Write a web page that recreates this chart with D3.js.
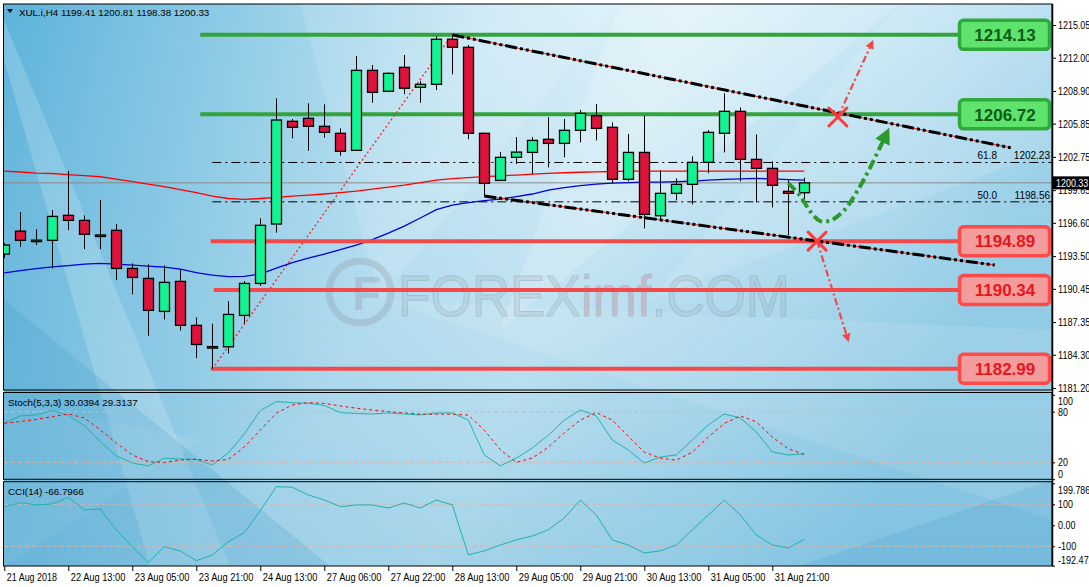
<!DOCTYPE html>
<html><head><meta charset="utf-8">
<script src="https://cdn.jsdelivr.net/npm/d3@7"></script>
<style>
html,body{margin:0;padding:0;background:#fff;}
svg{display:block;font-family:"Liberation Sans",Arial,sans-serif;}
</style></head><body>
<svg id="c" width="1089" height="587"></svg>
<script>
// ---------------- DATA ----------------
const symbol = "XUL.i,H4";
const lastOHLC = [1199.41, 1200.81, 1198.38, 1200.33];
const xLabels = ["21 Aug 2018","22 Aug 13:00","23 Aug 05:00","23 Aug 21:00","24 Aug 13:00","27 Aug 06:00","27 Aug 22:00","28 Aug 13:00","29 Aug 05:00","29 Aug 21:00","30 Aug 13:00","31 Aug 05:00","31 Aug 21:00"];
const xLabelBars = [0,4,8,12,16,20,24,28,32,36,40,44,48];
const priceTicks = [1215.05,1212.00,1208.90,1205.85,1202.75,1199.65,1196.60,1193.50,1190.45,1187.35,1184.30,1181.20];

const open  = [1193.69,1195.83,1194.97,1194.97,1197.30,1196.83,1195.46,1195.90,1192.35,1191.42,1188.34,1191.14,1187.04,1185.04,1185.04,1187.97,1190.95,1196.49,1206.07,1206.35,1205.60,1204.95,1203.36,1210.82,1208.87,1211.10,1209.24,1209.52,1213.72,1212.97,1204.95,1200.56,1202.71,1203.17,1204.39,1204.01,1205.23,1206.59,1205.51,1200.66,1203.17,1197.26,1199.35,1200.19,1202.24,1204.95,1207.00,1202.52,1201.68,1199.54,1199.41];
const high  = [1194.71,1197.61,1196.02,1197.79,1201.43,1197.30,1198.73,1196.49,1192.82,1192.73,1192.63,1192.26,1187.78,1187.19,1189.30,1191.17,1197.02,1208.21,1206.28,1207.75,1207.65,1205.41,1212.16,1211.32,1210.64,1212.25,1209.83,1214.00,1214.13,1213.18,1205.00,1203.20,1204.60,1204.60,1206.44,1206.28,1207.12,1207.68,1205.97,1204.88,1206.59,1201.50,1200.75,1202.80,1205.26,1208.68,1207.37,1204.85,1202.34,1200.56,1200.81];
const low   = [1193.31,1194.37,1194.53,1192.35,1195.93,1194.15,1194.15,1191.26,1189.93,1186.07,1187.60,1186.57,1183.99,1182.99,1184.42,1187.22,1190.73,1195.68,1204.48,1203.32,1204.54,1202.86,1203.30,1207.80,1208.80,1208.59,1207.80,1208.99,1210.45,1204.39,1199.10,1200.50,1202.08,1201.18,1201.78,1202.71,1204.11,1204.29,1200.28,1200.47,1196.09,1196.83,1198.70,1198.32,1201.22,1203.17,1200.47,1198.51,1198.04,1195.46,1198.38];
const close = [1194.53,1194.97,1194.99,1197.20,1196.83,1195.53,1195.47,1192.35,1191.51,1188.44,1191.05,1187.04,1185.26,1185.06,1188.06,1190.95,1196.37,1206.19,1205.51,1205.60,1205.04,1203.27,1210.82,1208.77,1210.54,1209.15,1209.52,1213.72,1212.97,1204.95,1200.28,1202.71,1203.20,1204.29,1204.01,1205.23,1206.81,1205.41,1200.66,1203.17,1197.39,1199.35,1200.19,1202.24,1205.04,1207.00,1202.52,1201.68,1200.10,1199.35,1200.33];

const maRed  = [1201.43,1201.34,1201.24,1201.20,1201.10,1201.01,1200.90,1200.68,1200.45,1200.22,1199.98,1199.70,1199.42,1199.10,1198.87,1198.79,1198.87,1198.98,1199.10,1199.19,1199.29,1199.42,1199.56,1199.75,1199.94,1200.12,1200.36,1200.59,1200.73,1200.82,1200.92,1200.99,1201.06,1201.15,1201.22,1201.27,1201.32,1201.36,1201.39,1201.42,1201.43,1201.43,1201.43,1201.43,1201.43,1201.43,1201.43,1201.43,1201.43,1201.43,1201.43];
const maBlue = [1191.94,1192.15,1192.34,1192.50,1192.62,1192.76,1192.82,1192.76,1192.66,1192.57,1192.48,1192.29,1191.96,1191.73,1191.59,1191.61,1191.82,1192.38,1192.90,1193.31,1193.69,1194.11,1194.53,1195.04,1195.65,1196.30,1197.05,1197.84,1198.26,1198.49,1198.68,1198.82,1199.05,1199.29,1199.66,1199.89,1200.08,1200.22,1200.31,1200.36,1200.39,1200.40,1200.44,1200.50,1200.59,1200.66,1200.70,1200.75,1200.70,1200.64,1200.59];

const stochMain   = [66.7,75.0,76.2,81.3,75.6,63.7,44.5,27.5,19.2,15.7,24.8,24.0,23.6,16.8,31.1,53.6,81.3,91.9,90.7,90.0,87.4,78.9,77.9,77.3,78.5,77.3,76.2,78.5,78.5,70.0,28.7,15.7,25.0,37.0,52.0,70.0,82.0,75.0,46.5,34.6,19.2,26.3,28.7,46.5,64.3,77.3,72.6,56.0,32.3,28.7,30.04];
const stochSignal = [66.3,68.4,70.8,74.1,77.3,72.6,58.4,42.9,28.7,20.8,19.8,22.7,23.6,21.6,23.4,38.2,58.4,78.2,88.0,90.7,89.8,86.8,84.1,82.0,80.0,78.5,77.0,77.0,77.0,76.0,58.0,35.0,20.0,25.0,38.0,55.0,70.0,79.0,70.0,51.0,32.0,25.0,22.5,32.0,50.0,66.0,75.0,68.0,50.0,36.0,29.31];
const cci = [88.6,107.6,96.7,101.4,133.3,72.9,77.6,-22.4,-101.9,-178.1,-101.9,-122.4,-168.6,-141.4,-78.1,-35.2,69.5,183.8,181.0,144.3,120.5,88.6,96.7,96.7,82,106,82,120,97,-141,-122,-94,-70,-51,-22,35,120,49,-70,-94,-132,-122,-94,-22,49,120,49,-46,-94,-108,-66.80];
const stochText = "Stoch(5,3,3) 30.0394 29.3137";
const cciText = "CCI(14) -66.7966";
const stochTicks = [100,80,20,0];
const cciTicks = [199.786,100,0,-100,-192.472];

const resistLevels = [1214.13, 1206.72];
const supportLevels = [1194.89, 1190.34, 1182.99];
const fibLevels = [{pct:"61.8", price:1202.23},{pct:"50.0", price:1198.56}];
const fibLow = [13, 1182.99], fibHigh = [28, 1214.13];
const upperTrend = [[28,1214.13],[62.9,1203.60]];
const lowerTrend = [[30,1199.10],[61.9,1192.66]];
const crossPts = [[52.1,1206.47],[50.8,1194.90]];
const redArrows = [[[52.1,1206.47],[54.2,1213.28]],[[50.8,1194.90],[52.7,1185.85]]];
const greenPath = [[49.0,1200.31],[49.7,1199.19],[50.4,1197.61],[51.0,1196.77],[51.7,1196.86],[52.5,1197.79],[53.35,1199.66],[54.1,1201.71],[55.1,1204.79]];

// ---------------- LAYOUT ----------------
const L=4, R=1052;
const mainTop=4, mainBot=390, stTop=392.5, stBot=479.3, cTop=481.7, cBot=566;
const FONT='"Liberation Sans",Arial,sans-serif';
const svg = d3.select('#c');
const x  = d3.scaleLinear().domain([0,50]).range([4.3,804.3]);
const y  = d3.scaleLinear().domain([1181.20,1215.05]).range([388,25]);
const ys = d3.scaleLinear().domain([0,100]).range([479.2,394.8]);
const yc = d3.scaleLinear().domain([-192.472,199.786]).range([565.7,483.3]);
// narrow label width like a bitmap UI font
const labW = t => { let w=0; for(const ch of t){ w += (ch==='.'?2.6:(ch==='-'?3.4:4.95)); } return w; };

const defs = svg.append('defs');
const g1 = defs.append('linearGradient').attr('id','bg').attr('x1',0).attr('y1',0).attr('x2',1).attr('y2',0.25);
[[0,'#5cb3da'],[0.22,'#92cde7'],[0.45,'#cfeaf6'],[0.62,'#dff2f9'],[0.85,'#c2e4f3'],[1,'#a8d7ec']].forEach(s=>g1.append('stop').attr('offset',s[0]).attr('stop-color',s[1]));
const g2 = defs.append('linearGradient').attr('id','dark').attr('x1',0).attr('y1',0).attr('x2',0).attr('y2',1);
g2.append('stop').attr('offset',0).attr('stop-color','#3a9ccc').attr('stop-opacity',0);
g2.append('stop').attr('offset',1).attr('stop-color','#3a9ccc').attr('stop-opacity',0.35);
const blur = defs.append('filter').attr('id','sh').attr('x','-5%').attr('y','-50%').attr('width','110%').attr('height','200%');
blur.append('feGaussianBlur').attr('stdDeviation',1.6);
defs.append('clipPath').attr('id','cm').append('rect').attr('x',L).attr('y',mainTop).attr('width',R-L).attr('height',mainBot-mainTop);
defs.append('clipPath').attr('id','cs').append('rect').attr('x',L).attr('y',stTop).attr('width',R-L).attr('height',stBot-stTop);
defs.append('clipPath').attr('id','cc').append('rect').attr('x',L).attr('y',cTop).attr('width',R-L).attr('height',cBot-cTop);
function marker(id,color){
  defs.append('marker').attr('id',id).attr('viewBox','0 0 10 10').attr('refX',5).attr('refY',5)
   .attr('markerWidth',4).attr('markerHeight',4).attr('orient','auto-start-reverse')
   .append('path').attr('d','M0,0 L10,5 L0,10 z').attr('fill',color);
}
marker('ar','#f04848'); marker('ag','#2a9a2a');

// background
svg.append('rect').attr('x',0).attr('y',0).attr('width',1089).attr('height',587).attr('fill','#fff');
const bgG = svg.append('g');
bgG.append('rect').attr('x',L).attr('y',mainTop).attr('width',R-L).attr('height',cBot-mainTop).attr('fill','url(#bg)');
bgG.append('rect').attr('x',L).attr('y',mainTop).attr('width',R-L).attr('height',cBot-mainTop).attr('fill','url(#dark)');
const polys = [
  [[L,60],[L,20],[230,566],[150,566]],
  [[300,mainTop],[620,mainTop],[380,300]],
  [[620,mainTop],[900,mainTop],[500,330]],
  [[900,mainTop],[R,mainTop],[R,150],[650,300]],
  [[380,300],[R,330],[R,520]],
  [[L,400],[200,440],[L,566]]
];
const polyOp=[0.18,0.12,0.18,0.12,0.1,0.08];
polys.forEach((p,i)=>bgG.append('path').attr('d','M'+p.map(q=>q.join(',')).join('L')+'Z').attr('fill','#fff').attr('opacity',polyOp[i]));
bgG.append('path').attr('d',`M${L},300 L330,${cBot} L${L},${cBot} Z`).attr('fill','#2e8fc2').attr('opacity',0.18);
bgG.append('path').attr('d',`M800,${cBot} L${R},480 L${R},${cBot} Z`).attr('fill','#2e8fc2').attr('opacity',0.15);

// watermark
const wm = svg.append('g').attr('opacity',0.3);
wm.append('circle').attr('cx',360).attr('cy',292).attr('r',31).attr('fill','none').attr('stroke','#8a98a4').attr('stroke-width',7);
wm.append('text').attr('x',352).attr('y',310).attr('font-size',48).attr('font-weight','bold').attr('fill','#8a98a4').text('F');
const wt = wm.append('text').attr('x',398).attr('y',316).attr('font-size',58).attr('textLength',392).attr('lengthAdjust','spacingAndGlyphs')
  .attr('stroke','#6f7e8a').attr('stroke-width',1);
wt.append('tspan').attr('fill','#aab6c0').text('FOREX');
wt.append('tspan').attr('fill','#d86a70').text('imf');
wt.append('tspan').attr('fill','#aab6c0').text('.COM');

// ---------- MAIN PANEL ----------
const m = svg.append('g').attr('clip-path','url(#cm)');
m.append('line').attr('x1',L).attr('x2',R).attr('y1',y(lastOHLC[3])).attr('y2',y(lastOHLC[3])).attr('stroke','#8a8a8a').attr('stroke-width',1);
fibLevels.forEach(f=>{
  m.append('line').attr('x1',x(fibLow[0])).attr('x2',R).attr('y1',y(f.price)).attr('y2',y(f.price))
   .attr('stroke','#000').attr('stroke-width',1).attr('stroke-dasharray','9,4,2,4');
  m.append('text').attr('x',997).attr('y',y(f.price)-3).attr('text-anchor','end').attr('font-size',10).text(f.pct);
  m.append('text').attr('x',1050).attr('y',y(f.price)-3).attr('text-anchor','end').attr('font-size',10).text(f.price.toFixed(2));
});
m.append('line').attr('x1',x(fibLow[0])).attr('y1',y(fibLow[1])).attr('x2',x(fibHigh[0])).attr('y2',y(fibHigh[1]))
  .attr('stroke','#ff2020').attr('stroke-width',1.3).attr('stroke-dasharray','2,2.5');
const lineMA = d3.line().x((d,i)=>x(i)).y(d=>y(d));
m.append('path').attr('d',lineMA(maRed)).attr('fill','none').attr('stroke','#ff0000').attr('stroke-width',1.3);
m.append('path').attr('d',lineMA(maBlue)).attr('fill','none').attr('stroke','#0000d8').attr('stroke-width',1.3);

function level(price,x0,color,bw){
  m.append('line').attr('x1',x0).attr('x2',bw).attr('y1',y(price)+3).attr('y2',y(price)+3)
   .attr('stroke','#333').attr('stroke-width',4).attr('opacity',0.35).attr('filter','url(#sh)');
  m.append('line').attr('x1',x0).attr('x2',bw).attr('y1',y(price)).attr('y2',y(price)).attr('stroke',color).attr('stroke-width',4);
}
resistLevels.forEach(p=>level(p,x(12.25),'#33a43c',960));
supportLevels.forEach((p,i)=>level(p,x(12.9)+(i==1?3:0),'#f24a4a',958));

const idx = d3.range(open.length);
const cg = m.append('g');
cg.selectAll('line.w').data(idx).join('line').attr('class','w')
  .attr('x1',i=>Math.round(x(i))+0.5).attr('x2',i=>Math.round(x(i))+0.5)
  .attr('y1',i=>y(high[i])).attr('y2',i=>y(low[i])).attr('stroke','#000').attr('stroke-width',1);
cg.selectAll('rect.b').data(idx).join('rect').attr('class','b')
  .attr('x',i=>Math.round(x(i))-4.5).attr('width',10)
  .attr('y',i=>y(Math.max(open[i],close[i])))
  .attr('height',i=>Math.max(1.5,Math.abs(y(open[i])-y(close[i]))))
  .attr('fill',i=>close[i]>=open[i]?'#12f292':'#dc143c')
  .attr('stroke','#000').attr('stroke-width',1.3);

function trend(pts){
  const d = d3.line().x(p=>x(p[0])).y(p=>y(p[1]))(pts);
  m.append('path').attr('d',d).attr('stroke','#ff1a1a').attr('stroke-width',1).attr('fill','none');
  m.append('path').attr('d',d).attr('stroke','#000').attr('stroke-width',3).attr('fill','none').attr('stroke-dasharray','12,3,3,3,3,3');
}
trend(upperTrend); trend(lowerTrend);

redArrows.forEach(a=>{
  m.append('path').attr('d',d3.line().x(p=>x(p[0])).y(p=>y(p[1]))(a)).attr('stroke','#f04848').attr('stroke-width',2.2)
   .attr('fill','none').attr('stroke-dasharray','7,3,2,3').attr('marker-end','url(#ar)');
});
m.append('path').attr('d',d3.line().curve(d3.curveCatmullRom).x(p=>x(p[0])).y(p=>y(p[1]))(greenPath))
  .attr('stroke','#2a9a2a').attr('stroke-width',4).attr('fill','none').attr('stroke-dasharray','10,4,3,4').attr('marker-end','url(#ag)');
crossPts.forEach(c=>{
  const cx=x(c[0]), cy=y(c[1]);
  m.append('path').attr('d',`M${cx-9},${cy-9}L${cx+9},${cy+9}M${cx-9},${cy+9}L${cx+9},${cy-9}`)
   .attr('stroke','#ff3b3b').attr('stroke-width',3).attr('stroke-linecap','round');
});

function box(price,fill,stroke,tcol){
  const cy=y(price);
  svg.append('rect').attr('x',959.5).attr('y',cy-14.5).attr('width',90).attr('height',29).attr('rx',4)
   .attr('fill',fill).attr('stroke',stroke).attr('stroke-width',3.5);
  svg.append('text').attr('x',1005).attr('y',cy+6.2).attr('text-anchor','middle').attr('font-size',17).attr('font-weight','bold')
   .attr('fill',tcol).text(price.toFixed(2));
}
resistLevels.forEach(p=>box(p,'#5ee36c','#2fa83c','#0f5a1a'));
supportLevels.forEach(p=>box(p,'#f39c9c','#ff4a4a','#e81522'));

// ---------- STOCH ----------
const s = svg.append('g').attr('clip-path','url(#cs)');
[80,20].forEach(v=>s.append('line').attr('x1',L).attr('x2',R).attr('y1',ys(v)).attr('y2',ys(v)).attr('stroke','#d8b4a8').attr('stroke-dasharray','4,3'));
const ls = d3.line().x((d,i)=>x(i)).y(d=>ys(d));
s.append('path').attr('d',ls(stochMain)).attr('fill','none').attr('stroke','#20b2aa').attr('stroke-width',1);
s.append('path').attr('d',ls(stochSignal)).attr('fill','none').attr('stroke','#ff0000').attr('stroke-width',1).attr('stroke-dasharray','3,3');
svg.append('text').attr('x',8).attr('y',406).attr('font-size',9.8).text(stochText);

// ---------- CCI ----------
const c = svg.append('g').attr('clip-path','url(#cc)');
[100,-100].forEach(v=>c.append('line').attr('x1',L).attr('x2',R).attr('y1',yc(v)).attr('y2',yc(v)).attr('stroke','#d8b4a8').attr('stroke-dasharray','4,3'));
c.append('path').attr('d',d3.line().x((d,i)=>x(i)).y(d=>yc(d))(cci)).attr('fill','none').attr('stroke','#20b2aa').attr('stroke-width',1);
svg.append('text').attr('x',8).attr('y',495).attr('font-size',9.8).text(cciText);

// ---------- FRAMES ----------
[[mainTop,mainBot],[stTop,stBot],[cTop,cBot]].forEach(([t,b])=>{
  svg.append('rect').attr('x',L-0.5).attr('y',t).attr('width',R-L+0.5).attr('height',b-t).attr('fill','none').attr('stroke','#000').attr('stroke-width',1);
});
svg.append('line').attr('x1',R+0.5).attr('x2',R+0.5).attr('y1',mainTop).attr('y2',cBot).attr('stroke','#000').attr('stroke-width',1.5);

// ---------- AXES ----------
function fitText(sel){ sel.each(function(){ const t=d3.select(this).text(); d3.select(this).attr('textLength',labW(t)).attr('lengthAdjust','spacingAndGlyphs'); }); }
const pa = svg.append('g').attr('transform',`translate(${R},0)`).call(d3.axisRight(y).tickValues(priceTicks).tickFormat(d3.format('.2f')).tickSize(4).tickPadding(2));
pa.select('.domain').remove();
pa.selectAll('text').attr('font-size',10.5).attr('font-family',FONT).attr('fill','#000').call(fitText);
svg.append('rect').attr('x',R+1).attr('y',y(lastOHLC[3])-6.5).attr('width',40).attr('height',13).attr('fill','#000');
svg.append('text').attr('x',R+4).attr('y',y(lastOHLC[3])+4).attr('font-size',10.5).attr('fill','#fff').text(lastOHLC[3].toFixed(2)).call(fitText);

function sideLabels(vals,scale,fmt){
  const ga = svg.append('g').attr('transform',`translate(${R},0)`).call(d3.axisRight(scale).tickValues(vals).tickFormat(fmt).tickSize(3).tickPadding(3));
  ga.select('.domain').remove();
  ga.selectAll('text').attr('font-size',10.5).attr('font-family',FONT).attr('fill','#000')
    .attr('dy',d=>d===vals[0]?'0.95em':(d===vals[vals.length-1]?'-0.2em':'0.32em')).call(fitText);
}
sideLabels(stochTicks,ys,d=>String(d));
sideLabels(cciTicks,yc,d=>d===0?'0.00':String(d));

const xa = svg.append('g').attr('transform',`translate(0,${cBot})`).call(d3.axisBottom(x).tickValues(xLabelBars).tickFormat((d,i)=>xLabels[i]).tickSize(5).tickPadding(3));
xa.select('.domain').remove();
xa.selectAll('text').attr('font-size',10).attr('font-family',FONT).attr('fill','#000').attr('text-anchor','start').attr('dx',2)
  .each(function(){ const t=d3.select(this).text(); d3.select(this).attr('textLength',t.length*4.55).attr('lengthAdjust','spacingAndGlyphs'); });

svg.append('path').attr('d','M7,9 L13,9 L10,13 Z').attr('fill','#000');
svg.append('text').attr('x',19).attr('y',16).attr('font-size',9.8).text(symbol+'  '+lastOHLC.map(v=>v.toFixed(2)).join(' '));
</script>
</body></html>
